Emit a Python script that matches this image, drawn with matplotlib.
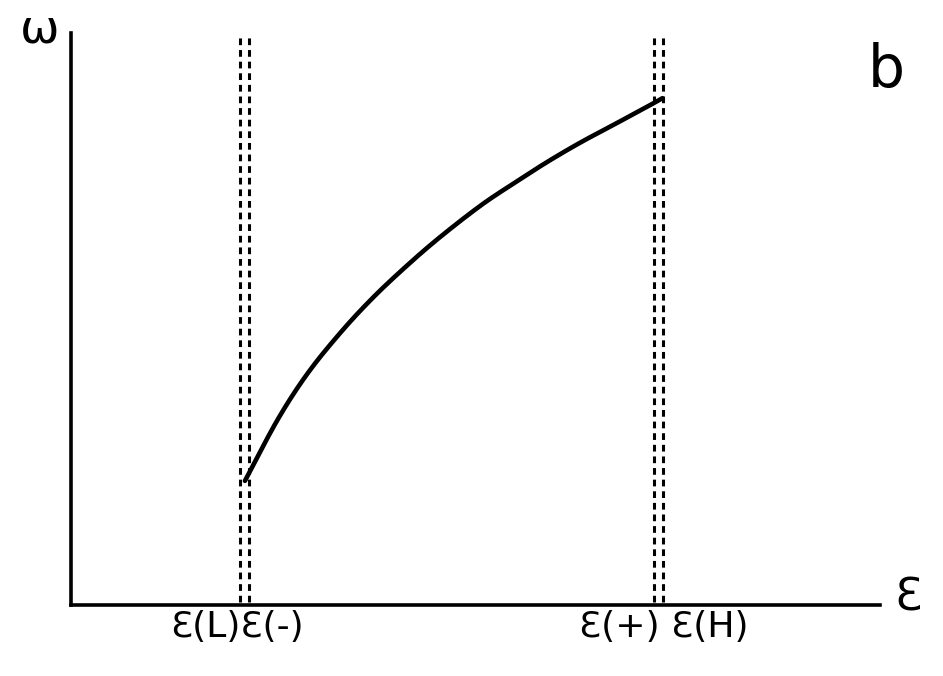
import matplotlib
matplotlib.use("Agg")
import numpy as np
import matplotlib.pyplot as plt

# Curve omega(epsilon), arbitrary units
eps = [2.15, 2.55, 2.92, 3.33, 3.73, 4.15, 4.56, 5.06, 5.46, 5.88, 6.29, 6.70, 7.12, 7.31]
omega = [2.17, 3.23, 4.04, 4.76, 5.37, 5.93, 6.43, 6.98, 7.36, 7.74, 8.08, 8.39, 8.71, 8.86]

# Characteristic energies marked by vertical dashed lines
eps_marks = [2.09, 2.20, 7.21, 7.32]
mark_labels = ["Ɛ(L)Ɛ(-)", "Ɛ(+) Ɛ(H)"]
mark_label_x = [2.05, 7.33]


def smooth_path(x, y, steps=20):
    """Catmull-Rom curve through the given points (for drawing only)."""
    p = np.column_stack([x, y]).astype(float)
    p = np.vstack([2 * p[0] - p[1], p, 2 * p[-1] - p[-2]])
    out = []
    for i in range(1, len(p) - 2):
        p0, p1, p2, p3 = p[i - 1], p[i], p[i + 1], p[i + 2]
        t = np.linspace(0, 1, steps, endpoint=False)[:, None]
        seg = 0.5 * ((2 * p1) + (-p0 + p2) * t
                     + (2 * p0 - 5 * p1 + 4 * p2 - p3) * t ** 2
                     + (-p0 + 3 * p1 - 3 * p2 + p3) * t ** 3)
        out.append(seg)
    out.append(p[-2][None, :])
    out = np.vstack(out)
    return out[:, 0], out[:, 1]


W, H = 943, 676
fig = plt.figure(figsize=(W / 100, H / 100), dpi=100)
ax = fig.add_axes([71 / W, (H - 605) / H, (880 - 71) / W, (605 - 33) / H])
ax.set_xlim(0, 10)
ax.set_ylim(0, 10)

for s in ("top", "right"):
    ax.spines[s].set_visible(False)
for s in ("left", "bottom"):
    ax.spines[s].set_linewidth(2.6)
    ax.spines[s].set_color("black")
ax.set_xticks([])
ax.set_yticks([])
ax.patch.set_alpha(0)

for x in eps_marks:
    ax.plot([x, x], [0.05, 9.97], color="black", lw=2.2,
            linestyle=(0, (2.2, 1.6)), solid_capstyle="butt")

sx, sy = smooth_path(eps, omega)
ax.plot(sx, sy, color="black", lw=3.3, solid_capstyle="round")

for lbl, x in zip(mark_labels, mark_label_x):
    ax.text(x, -0.08, lbl, ha="center", va="top", fontsize=26,
            family="DejaVu Sans", clip_on=False)

fig.text(40 / W, 1 - 30 / H, "ω", ha="center", va="center", fontsize=34)
fig.text(908 / W, 1 - 598 / H, "Ɛ", ha="center", va="center", fontsize=32)
fig.text(886 / W, 1 - 70 / H, "b", ha="center", va="center", fontsize=42)

fig.savefig("out.png", dpi=100, facecolor="white")
